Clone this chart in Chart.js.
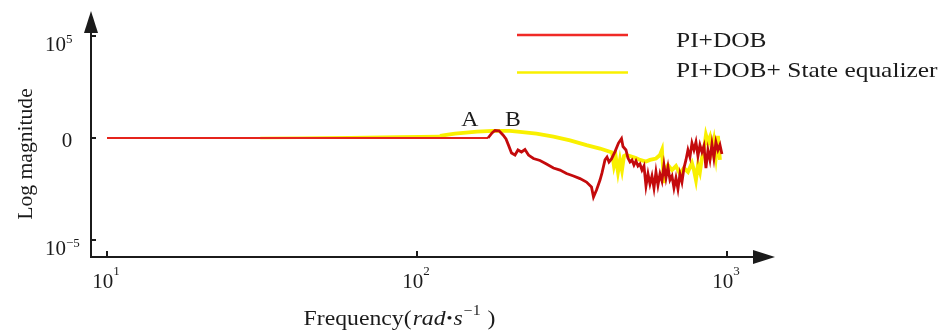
<!DOCTYPE html>
<html>
<head>
<meta charset="utf-8">
<title>Frequency response</title>
<script src="https://cdn.jsdelivr.net/npm/chart.js@4.4.1/dist/chart.umd.min.js"></script>
<style>
  html, body { margin: 0; padding: 0; background: #ffffff; }
  canvas { display: block; }
</style>
</head>
<body>
<canvas id="bode" width="942" height="334"></canvas>
<script>
// Series names
const seriesNames = ['PI+DOB', 'PI+DOB+ State equalizer'];

// PI+DOB: frequency (rad/s) and log magnitude
const dobFreq = [10, 169.5, 174.6, 178.5, 183.9, 189.4, 193.7, 197.3, 201.8, 207.1,
  211.7, 217.3, 223.0, 228.9, 237.5, 249.3, 261.6, 275.5, 289.3, 303.6,
  319.8, 335.6, 352.2, 365.5, 371.0, 379.4, 389.4, 395.2, 404.1, 410.2,
  416.3, 424.1, 435.3, 446.7, 456.8, 461.9,
  472.2, 479.3, 486.5, 493.7, 501.1, 508.6, 516.2, 524.0, 531.8, 539.8,
  547.9, 556.1, 564.4, 572.8, 581.4, 590.1, 598.9, 607.9, 617.0, 626.2,
  635.6, 645.1, 654.8, 664.6, 674.5, 684.6, 694.8, 705.2, 715.7, 726.4,
  737.3, 748.3, 759.5, 770.9, 782.4, 794.1, 806.0, 818.0, 830.3, 842.7,
  855.3, 868.1, 881.1, 894.3, 907.6, 921.2, 935.0, 949.0, 963.2];
const dobMag = [0, 0, 0.25, 0.37, 0.35, 0.15, -0.05, -0.35, -0.74, -0.84,
  -0.59, -0.69, -0.57, -0.84, -1.01, -1.11, -1.28, -1.48, -1.58, -1.75,
  -1.87, -2.00, -2.17, -2.41, -2.91, -2.56, -2.07, -1.72, -1.08, -0.94,
  -1.18, -1.03, -0.67, -0.25, -0.03, -0.42,
  -0.59, -0.99, -1.18, -1.08, -1.33, -1.13, -1.38, -1.28, -1.58, -1.38,
  -2.36, -1.77, -2.27, -1.87, -2.46, -1.67, -2.32, -1.77, -2.12, -1.33,
  -1.97, -1.43, -2.07, -1.87, -2.46, -1.97, -2.51, -1.77, -2.17, -1.48,
  -1.08, -0.59, -0.94, -0.25, -0.59, -0.20, -0.89, -0.34, -0.69, -0.39,
  -1.48, -0.59, -1.08, -0.30, -0.99, -0.20, -0.59, -0.34, -0.79];

// PI+DOB + state equalizer: frequency (rad/s) and log magnitude
const eqFreq = [10, 31.2, 41.9, 60.8, 88.1, 118.6, 125.9, 132.6, 156.2, 175.9,
  199.5, 214.9, 242.9, 275.6, 311.6, 352.2, 389.4, 425.6, 432.0, 438.4,
  445.0, 451.7, 458.4, 465.3, 472.2, 486.5, 508.6, 524.0, 547.9, 564.4,
  590.1, 607.9, 617.0, 626.2, 635.6, 645.1, 664.6, 684.6, 705.2, 726.4,
  748.3, 770.9, 782.4, 794.1, 806.0, 818.0, 830.3, 842.7, 855.3, 868.1,
  881.1, 894.3, 907.6, 921.2, 935.0, 949.0];
const eqMag = [0, 0, 0.01, 0.03, 0.07, 0.10, 0.17, 0.22, 0.31, 0.35,
  0.35, 0.30, 0.22, 0.07, -0.12, -0.35, -0.52, -0.71, -1.38, -0.99,
  -1.67, -1.08, -1.58, -0.89, -0.84, -0.89, -0.99, -1.08, -1.16, -1.08,
  -1.01, -0.84, -0.59, -2.22, -1.48, -1.33, -1.58, -1.38, -1.77, -1.48,
  -1.67, -1.23, -1.58, -2.07, -1.33, -1.67, -0.99, -0.59, 0.15, -0.20,
  0.05, -0.59, -0.10, -0.89, 0.10, -1.08];

// Axis ticks: value, base text, exponent text
const xTickValues = [10, 100, 1000];
const xTickBase = ['10', '10', '10'];
const xTickExp = ['1', '2', '3'];
const yTickValues = [5, 0, -5];
const yTickBase = ['10', '0', '10'];
const yTickExp = ['5', '', '\u22125'];

// Point markers A and B near the resonance
const markLabels = ['A', 'B'];
const markFreq = [148, 204];
const markMag = [0.57, 0.57];

const yTitle = 'Log magnitude';

const SERIF = '"Liberation Serif", "Times New Roman", serif';
const INK = '#1b1b1b';
const RED = '#c40a0c';
const RED_LIGHT = '#e5241c';
const RED_KEY = '#f02a26';
const YELLOW = '#f9f000';
const WIDE = 1.13;

function zip(xs, ys) { return xs.map((v, i) => ({ x: v, y: ys[i] })); }

function fontOf(o) { return (o.italic ? 'italic ' : '') + o.size + 'px ' + SERIF; }

function putText(ctx, str, x, y, opt) {
  const o = Object.assign({ size: 21, align: 'left', baseline: 'alphabetic', italic: false, sx: 1, rotate: 0 }, opt || {});
  ctx.save();
  ctx.font = fontOf(o);
  ctx.fillStyle = o.color || INK;
  ctx.textAlign = o.align;
  ctx.textBaseline = o.baseline;
  ctx.translate(x, y);
  if (o.rotate) ctx.rotate(o.rotate);
  ctx.scale(o.sx, 1);
  ctx.fillText(str, 0, 0);
  ctx.restore();
}

function textW(ctx, str, opt) {
  const o = Object.assign({ size: 21, italic: false, sx: 1 }, opt || {});
  ctx.save();
  ctx.font = fontOf(o);
  const w = ctx.measureText(str).width * o.sx;
  ctx.restore();
  return w;
}

// Axes with arrowheads, inward ticks and superscript tick labels
const framePlugin = {
  id: 'frame',
  afterDraw(chart) {
    const { ctx, chartArea: a, scales } = chart;
    const xs = scales.x, ys = scales.y;
    ctx.save();
    ctx.strokeStyle = INK;
    ctx.fillStyle = INK;
    ctx.lineWidth = 2;
    ctx.lineCap = 'butt';

    ctx.beginPath();
    ctx.moveTo(a.left, a.bottom + 1);
    ctx.lineTo(a.left, a.top + 18);
    ctx.moveTo(a.left - 1, a.bottom);
    ctx.lineTo(a.right - 18, a.bottom);
    ctx.stroke();

    ctx.beginPath();
    ctx.moveTo(a.left, a.top);
    ctx.lineTo(a.left - 7, a.top + 22);
    ctx.lineTo(a.left + 7, a.top + 22);
    ctx.closePath();
    ctx.fill();

    ctx.beginPath();
    ctx.moveTo(a.right, a.bottom);
    ctx.lineTo(a.right - 22, a.bottom - 7);
    ctx.lineTo(a.right - 22, a.bottom + 7);
    ctx.closePath();
    ctx.fill();

    // x ticks
    xTickValues.forEach((v, i) => {
      const px = Math.round(xs.getPixelForValue(v));
      ctx.beginPath();
      ctx.moveTo(px, a.bottom);
      ctx.lineTo(px, a.bottom - 6);
      ctx.stroke();
      const wb = textW(ctx, xTickBase[i], { size: 21 });
      const we = textW(ctx, xTickExp[i], { size: 13 });
      const x0 = px - (wb + we) / 2 - 1;
      putText(ctx, xTickBase[i], x0, a.bottom + 31, { size: 21 });
      putText(ctx, xTickExp[i], x0 + wb, a.bottom + 18, { size: 13 });
    });

    // y ticks
    yTickValues.forEach((v, i) => {
      const py = Math.round(ys.getPixelForValue(v));
      ctx.beginPath();
      ctx.moveTo(a.left, py);
      ctx.lineTo(a.left + 5, py);
      ctx.stroke();
      if (yTickExp[i]) {
        const wb = textW(ctx, yTickBase[i], { size: 21 });
        putText(ctx, yTickBase[i], 45, py + 15, { size: 21 });
        putText(ctx, yTickExp[i], 45 + wb, py + 7, { size: 13 });
      } else {
        putText(ctx, yTickBase[i], 67, py + 9, { size: 21, align: 'center' });
      }
    });

    // y axis title
    putText(ctx, yTitle, 32, 154, { size: 21, align: 'center', rotate: -Math.PI / 2, sx: 1.03 });

    // x axis title: Frequency(rad•s^-1 )
    const parts = [
      { t: 'Frequency(', size: 21, italic: false, dy: 0 },
      { t: 'rad', size: 21, italic: true, dy: 0 },
      { t: '\u2022', size: 15, italic: false, dy: -2 },
      { t: 's', size: 21, italic: true, dy: 0 },
      { t: '\u22121', size: 14, italic: false, dy: -10 },
      { t: ' )', size: 21, italic: false, dy: 0 }
    ];
    const total = parts.reduce((s, p) => s + textW(ctx, p.t, { size: p.size, italic: p.italic, sx: WIDE }) + 1, 0);
    let cx = 400 - total / 2;
    parts.forEach(p => {
      putText(ctx, p.t, cx, 325 + p.dy, { size: p.size, italic: p.italic, sx: WIDE });
      cx += textW(ctx, p.t, { size: p.size, italic: p.italic, sx: WIDE }) + 1;
    });

    // point markers
    markLabels.forEach((s, i) => {
      putText(ctx, s, xs.getPixelForValue(markFreq[i]), ys.getPixelForValue(markMag[i]), { size: 21, align: 'center', sx: WIDE });
    });

    // legend
    const keyColors = [RED_KEY, YELLOW];
    const lineY = [35, 72.5];
    const textY = [46.5, 76.5];
    chart.data.datasets.forEach((ds, i) => {
      ctx.strokeStyle = keyColors[i];
      ctx.lineWidth = 2.5;
      ctx.beginPath();
      ctx.moveTo(517, lineY[i]);
      ctx.lineTo(628, lineY[i]);
      ctx.stroke();
      putText(ctx, ds.label, 676, textY[i], { size: 22, sx: 1.155 });
    });
    ctx.restore();
  }
};

new Chart(document.getElementById('bode'), {
  type: 'line',
  data: {
    datasets: [
      {
        label: seriesNames[0],
        data: zip(dobFreq, dobMag),
        borderColor: RED,
        borderWidth: 2.8,
        pointRadius: 0,
        tension: 0,
        order: 0,
        segment: {
          borderColor: c => (c.p1.parsed.x <= 170 ? RED_LIGHT : RED),
          borderWidth: c => (c.p1.parsed.x <= 170 ? 2.2 : 2.8)
        }
      },
      {
        label: seriesNames[1],
        data: zip(eqFreq, eqMag),
        borderColor: YELLOW,
        borderWidth: 3.8,
        pointRadius: 0,
        tension: 0,
        order: 1,
        segment: {
          borderWidth: c => (c.p1.parsed.x <= 40 ? 2 : (c.p1.parsed.x <= 120 ? 2.6 : 3.8))
        }
      }
    ]
  },
  options: {
    responsive: false,
    animation: false,
    events: [],
    layout: { padding: { left: 91, right: 167, top: 11, bottom: 77 } },
    plugins: { legend: { display: false }, tooltip: { enabled: false } },
    scales: {
      x: { type: 'logarithmic', min: 8.878, max: 1428.6, bounds: 'data', display: false },
      y: { type: 'linear', min: -5.862, max: 6.256, display: false }
    }
  },
  plugins: [framePlugin]
});
</script>
</body>
</html>
